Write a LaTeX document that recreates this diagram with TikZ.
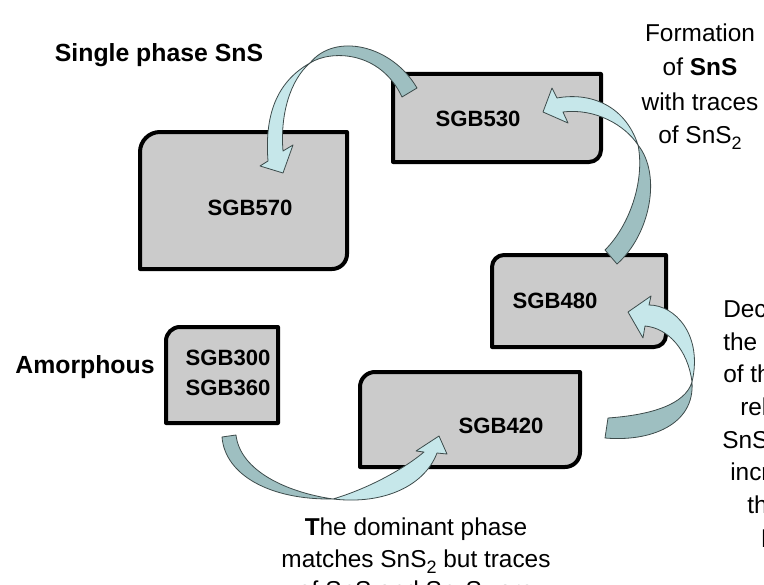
\documentclass[tikz,border=0pt]{standalone}
\usepackage{fontspec}
\setmainfont{Liberation Sans}
\definecolor{boxgray}{HTML}{CBCBCB}
\definecolor{ribbonlight}{HTML}{C6E7EA}
\definecolor{ribbondark}{HTML}{9EBFC1}
\definecolor{ribbonedge}{HTML}{3D4B4B}
\newcommand\samplefont{\fontsize{16.6}{20}\selectfont\bfseries}
\newcommand\phasefont{\fontsize{18.6}{22}\selectfont\bfseries}
\newcommand\notefont{\fontsize{18.3}{25}\selectfont}
% chemical subscript, set low as in the slide
\newcommand\lowsub[1]{\raisebox{-5pt}{\fontsize{13.5}{13.5}\selectfont #1}}
\begin{document}
\begin{tikzpicture}[x=0.75pt,y=-0.75pt,
  samplebox/.style={draw=black, fill=boxgray, line width=3pt, line join=round},
  ribbonfront/.style={fill=ribbonlight, draw=ribbonedge, line width=0.6pt, line join=round},
  ribbonback/.style={fill=ribbondark, draw=ribbonedge, line width=0.6pt, line join=round},
  sample/.style={anchor=base, inner sep=0pt, font=\samplefont},
  phase/.style={anchor=base, inner sep=0pt, font=\phasefont},
  note/.style={anchor=base, inner sep=0pt, font=\notefont},
  noteleft/.style={anchor=base west, inner sep=0pt, font=\notefont}]
\useasboundingbox (0,0) rectangle (764,585);
\clip (0,0) rectangle (764,585);

% ---- sample boxes (only some corners are rounded) ----
% SGB530: rounded bottom-right
\path[samplebox] (393,74) -- (601,74) -- (601,150) arc[start angle=0, end angle=90, radius=12] -- (393,162) -- cycle;
% SGB570: rounded top-left and bottom-right
\path[samplebox] (140,152) arc[start angle=180, end angle=270, radius=20] -- (347,132) -- (347,254) arc[start angle=0, end angle=90, radius=15] -- (140,269) -- cycle;
% SGB480: rounded top-left and bottom-right
\path[samplebox] (492,267) arc[start angle=180, end angle=270, radius=12] -- (666,255) -- (666,335) arc[start angle=0, end angle=90, radius=12] -- (492,347) -- cycle;
% SGB300 / SGB360: rounded top-left
\path[samplebox] (166,341) arc[start angle=180, end angle=270, radius=14] -- (278,327) -- (278,423) -- (166,423) -- cycle;
% SGB420: rounded top-left and bottom-right
\path[samplebox] (360,387) arc[start angle=180, end angle=270, radius=15] -- (580,372) -- (580,452) arc[start angle=0, end angle=90, radius=15] -- (360,467) -- cycle;

% ---- sample labels ----
\node[sample] (s530) at (478,127) {SGB530};
\node[sample] (s570) at (250,215) {SGB570};
\node[sample] (s480) at (555,308) {SGB480};
\node[sample] (s300) at (228,365) {SGB300};
\node[sample] (s360) at (228,395) {SGB360};
\node[sample] (s420) at (501,433) {SGB420};

% ---- twisted ribbon arrows ----
% SGB530 -> SGB570
\coordinate (twA) at (310,63);
\coordinate (tipA) at (283,173);
\path[ribbonfront] (twA) .. controls (280,80) and (264,110) .. (268,161) -- (260,166) -- (tipA) -- (293,145) -- (283,151) .. controls (280,115) and (290,80) .. (twA) -- cycle;
\path[ribbonback] (417,88) .. controls (392,45) and (335,32) .. (twA) .. controls (330,50) and (380,50) .. (402,97) -- cycle;

% SGB480 -> SGB530
\coordinate (twB) at (638,145);
\coordinate (tipB) at (543,112);
\path[ribbonfront] (twB) .. controls (625,105) and (590,92) .. (557,98) -- (552,88) -- (tipB) -- (568,123) -- (563,112) .. controls (595,108) and (625,125) .. (twB) -- cycle;
\path[ribbonback] (605,250) .. controls (630,225) and (645,180) .. (twB) .. controls (662,175) and (650,235) .. (617,264) -- cycle;

% SGB420 -> SGB480
\coordinate (twC) at (692,382);
\coordinate (tipC) at (628,312);
\path[ribbonfront] (twC) .. controls (703,335) and (675,305) .. (649,305) -- (651,296) -- (tipC) -- (643,338) -- (645,326) .. controls (668,328) and (688,350) .. (twC) -- cycle;
\path[ribbonback] (twC) .. controls (685,405) and (650,415) .. (608,418) -- (605,438) .. controls (650,442) and (695,425) .. (twC) -- cycle;

% SGB300/360 -> SGB420
\coordinate (twD) at (333,499);
\coordinate (tipD) at (439,436);
\path[ribbonback] (222,437) .. controls (225,475) and (270,500) .. (twD) .. controls (285,492) and (240,470) .. (236,435) -- cycle;
\path[ribbonfront] (twD) .. controls (370,488) and (405,468) .. (424,452) -- (416,451) -- (tipD) -- (447,454) -- (437,453) .. controls (425,485) and (385,505) .. (twD) -- cycle;

% ---- phase labels ----
\node[phase] (single) at (159,62) {Single phase SnS};
\node[phase] (amorph) at (85,373) {Amorphous};

% ---- notes ----
\node[note] (f1) at (700,42) {Formation};
\node[note] (f2) at (700,76) {of \textbf{SnS}};
\node[note] (f3) at (700,110) {with traces};
\node[note] (f4) at (700,143) {of SnS\lowsub{2}};

\node[note] (d1) at (416,535) {\textbf{T}he dominant phase};
\node[note] (d2) at (416,567) {matches SnS\lowsub{2} but traces};
\node[note] (d3) at (416,598) {of SnS and Sn\lowsub{2}S\lowsub{3} are};

\node[noteleft] (r1) at (723,317) {Decrease of};
\node[noteleft] (r2) at (723,350) {the intensity};
\node[noteleft] (r3) at (723,382) {of the peaks};
\node[noteleft] (r4) at (740,415) {related to};
\node[noteleft] (r5) at (722,448) {SnS\lowsub{2} and};
\node[noteleft] (r6) at (730,480) {increase of};
\node[noteleft] (r7) at (747,513) {the SnS};
\node[noteleft] (r8) at (761,547) {lines};
\end{tikzpicture}
\end{document}
